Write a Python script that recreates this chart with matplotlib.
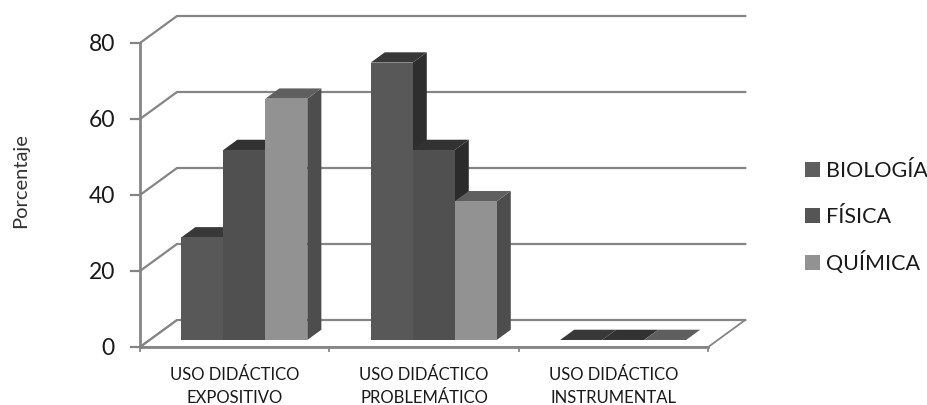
import matplotlib.pyplot as plt
from matplotlib.patches import Polygon, Rectangle

plt.rcParams['font.family'] = ['Lato', 'DejaVu Sans']

categorias = ['USO DIDÁCTICO\nEXPOSITIVO', 'USO DIDÁCTICO\nPROBLEMÁTICO', 'USO DIDÁCTICO\nINSTRUMENTAL']
series = ['BIOLOGÍA', 'FÍSICA', 'QUÍMICA']
biologia = [27, 73, 0]
fisica = [50, 50, 0]
quimica = [63.5, 36.5, 0]
valores_y = [0, 20, 40, 60, 80]

# frente, tapa y lado de cada serie
colores = [('#585858', '#383838', '#2e2e2e'),
           ('#505050', '#323232', '#2b2b2b'),
           ('#929292', '#5f5f5f', '#4d4d4d')]
color_leyenda = ['#5e5e5e', '#555555', '#929292']
gris = '#858585'
negro = '#1a1a1a'

W, H = 928, 406
x0, y0 = 140, 348       # origen del eje en pixeles
px_cat = 189.4          # pixeles por categoria
px_val = 3.8            # pixeles por punto porcentual
dx = 37 / px_cat        # desplazamiento de la profundidad
dy = 27 / px_val

fig = plt.figure(figsize=(W / 100, H / 100), dpi=100)
ax = fig.add_axes([0, 0, 1, 1])
ax.set_xlim(-x0 / px_cat, (W - x0) / px_cat)
ax.set_ylim(-(H - y0) / px_val, y0 / px_val)
ax.axis('off')


def p(x, y, d=0.0):
    # proyeccion oblicua: d = 0 al frente, d = 1 al fondo
    return (x + d * dx, y + d * dy)


n = len(categorias)

# piso
ax.add_patch(Polygon([p(0, 0), p(n, 0), p(n, 0, 1), p(0, 0, 1)], fc='white', ec=gris, lw=1.3, zorder=1))
ax.plot([0, n], [0, 0], color=gris, lw=2.0, zorder=2)

# lineas de la pared y diagonales
for v in valores_y:
    a = p(0, v)
    b = p(0, v, 1)
    c = p(n, v, 1)
    ax.plot([a[0], b[0], c[0]], [a[1], b[1], c[1]], color=gris, lw=1.6, zorder=1, solid_joinstyle='miter')
    ax.plot([-9 / px_cat, 0], [v, v], color=gris, lw=1.6, zorder=2)
    ax.text(-25 / px_cat, v - 1 / px_val, str(v), ha='right', va='center', fontsize=16.5, color=negro)

ax.plot([0, 0], [0, valores_y[-1]], color=gris, lw=2.0, zorder=2)
for i in range(n + 1):
    ax.plot([i, i], [0, -4 / px_val], color=gris, lw=1.3, zorder=2)

# barras 3D
ancho = 42 / px_cat
margen = (1 - 3 * ancho) / 2
d1, d2 = 0.26, 0.64
for k, vals in enumerate([biologia, fisica, quimica]):
    frente, tapa, lado = colores[k]
    for i, v in enumerate(vals):
        xa = i + margen + k * ancho
        xb = xa + ancho
        z = 3 + k
        ax.add_patch(Polygon([p(xb, 0, d1), p(xb, 0, d2), p(xb, v, d2), p(xb, v, d1)], fc=lado, ec='none', zorder=z))
        ax.add_patch(Polygon([p(xa, v, d1), p(xb, v, d1), p(xb, v, d2), p(xa, v, d2)], fc=tapa, ec='none', zorder=z))
        if v > 0:
            ax.add_patch(Polygon([p(xa, 0, d1), p(xb, 0, d1), p(xb, v, d1), p(xa, v, d1)], fc=frente, ec='none', zorder=z))

for i, nombre in enumerate(categorias):
    ax.text(i + 0.5, -38.5 / px_val, nombre, ha='center', va='center', fontsize=12,
            color=negro, linespacing=1.6)

ax.text(-119 / px_cat, 44, 'Porcentaje', rotation=90, ha='center', va='center', fontsize=14.5, color='#333333')

# leyenda a mano para que las filas queden a igual distancia
lado_px = 15
for k, nombre in enumerate(series):
    yc = y0 - (170 + 46.5 * k)
    ax.add_patch(Rectangle(((805 - x0) / px_cat, (yc - lado_px / 2) / px_val), lado_px / px_cat, lado_px / px_val,
                           fc=color_leyenda[k], ec='none'))
    ax.text((826 - x0) / px_cat, (yc - 7) / px_val, nombre, ha='left', va='baseline', fontsize=15.5, color=negro)

fig.savefig('out.png', dpi=100)
